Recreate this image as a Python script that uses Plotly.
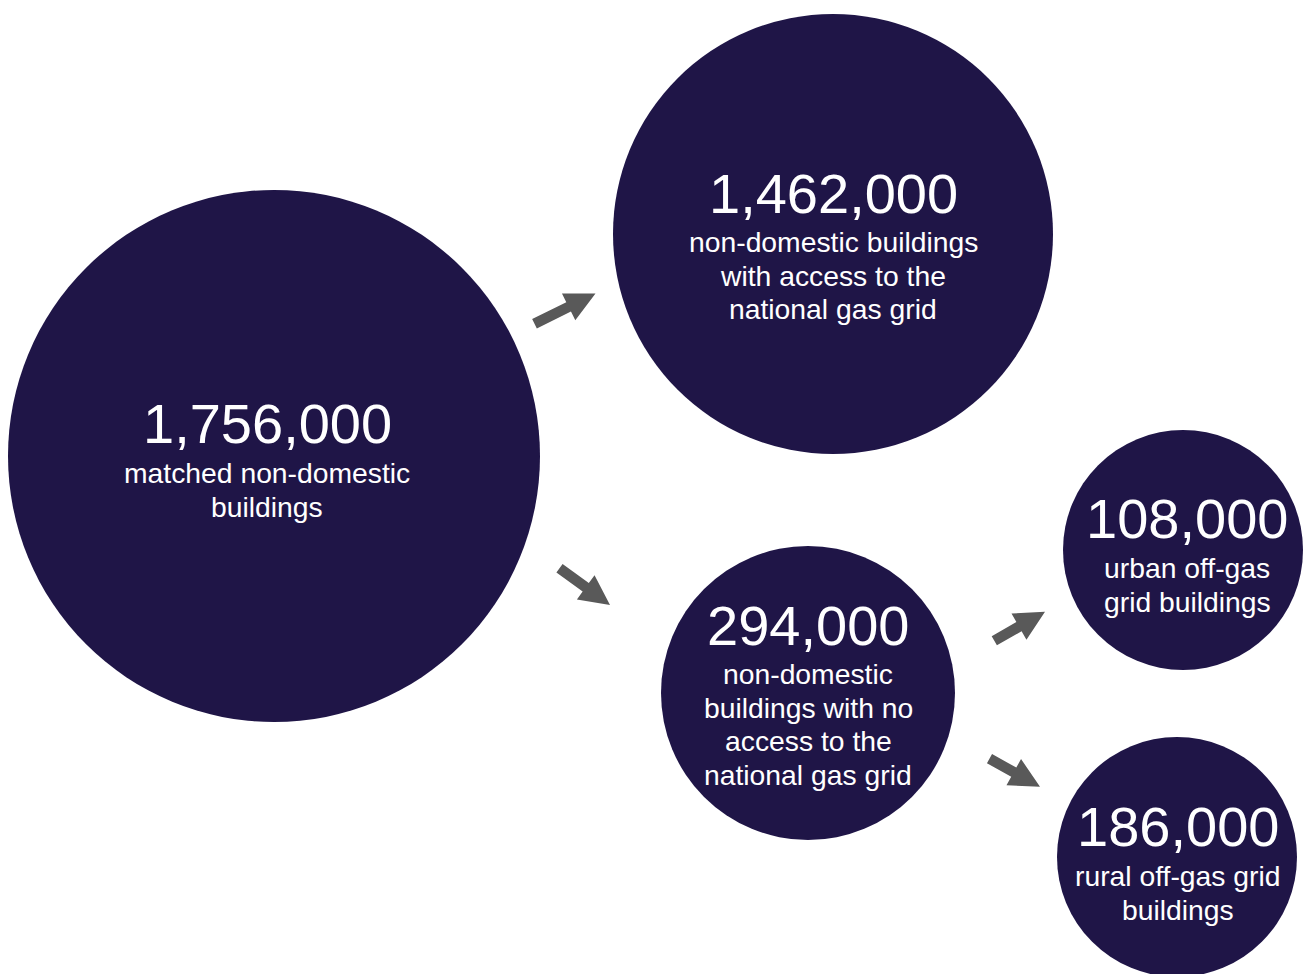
import plotly.graph_objects as go
import math

# ---- data ----
node_values = [1756000, 1462000, 294000, 108000, 186000]
node_labels = [
    ["matched non-domestic", "buildings"],
    ["non-domestic buildings", "with access to the", "national gas grid"],
    ["non-domestic", "buildings with no", "access to the", "national gas grid"],
    ["urban off-gas", "grid buildings"],
    ["rural off-gas grid", "buildings"],
]
link_source = [0, 0, 2, 2]
link_target = [1, 2, 3, 4]

# ---- layout (pixel space) ----
W, H = 1303, 974
circle_cx = [274, 833, 808, 1183, 1177]
circle_cy = [456, 234, 693, 550, 857]
circle_r = [266, 220, 147, 120, 120]
text_cx = [267, 833, 808, 1187, 1178]
number_y = [423, 193, 625, 518, 826]
label_y0 = [473, 242, 674, 568, 876]
line_gap = 33.7

# arrows: (tail x, tail y, tip x, tip y)
arrow_geom = [
    (534.5, 323.8, 595.5, 293.5),
    (559.5, 568.3, 610.0, 605.0),
    (994.3, 640.8, 1045.0, 611.7),
    (989.5, 758.7, 1040.0, 786.7),
]

NAVY = "#1F1547"
GREY = "#595959"
FONT = "Liberation Sans, Arial, sans-serif"

fig = go.Figure()
shapes = []
for cx, cy, r in zip(circle_cx, circle_cy, circle_r):
    shapes.append(dict(type="circle", xref="x", yref="y",
                       x0=cx - r, x1=cx + r, y0=cy - r, y1=cy + r,
                       fillcolor=NAVY, line=dict(width=0), layer="below"))

shaft_w = 10.5
head_w = 30.0
head_l = 30.0
for (tx, ty, hx, hy) in arrow_geom:
    dx, dy = hx - tx, hy - ty
    L = math.hypot(dx, dy)
    ux, uy = dx / L, dy / L
    px, py = -uy, ux
    bx, by = hx - ux * head_l, hy - uy * head_l
    pts = [
        (tx + px * shaft_w / 2, ty + py * shaft_w / 2),
        (bx + px * shaft_w / 2, by + py * shaft_w / 2),
        (bx + px * head_w / 2, by + py * head_w / 2),
        (hx, hy),
        (bx - px * head_w / 2, by - py * head_w / 2),
        (bx - px * shaft_w / 2, by - py * shaft_w / 2),
        (tx - px * shaft_w / 2, ty - py * shaft_w / 2),
    ]
    path = "M " + " L ".join(f"{x:.2f},{y:.2f}" for x, y in pts) + " Z"
    shapes.append(dict(type="path", xref="x", yref="y", path=path,
                       fillcolor=GREY, line=dict(width=0)))

annotations = []
for i, v in enumerate(node_values):
    annotations.append(dict(x=text_cx[i], y=number_y[i], xref="x", yref="y",
                            text=f"{v:,}", showarrow=False,
                            xanchor="center", yanchor="middle",
                            font=dict(family=FONT, size=56, color="white")))
    for j, line in enumerate(node_labels[i]):
        annotations.append(dict(x=text_cx[i], y=label_y0[i] + j * line_gap,
                                xref="x", yref="y", text=line, showarrow=False,
                                xanchor="center", yanchor="middle",
                                font=dict(family=FONT, size=28.3, color="white")))

fig.update_layout(
    width=W, height=H,
    margin=dict(l=0, r=0, t=0, b=0),
    paper_bgcolor="white", plot_bgcolor="white",
    xaxis=dict(range=[0, W], visible=False, fixedrange=True),
    yaxis=dict(range=[H, 0], visible=False, fixedrange=True),
    shapes=shapes, annotations=annotations, showlegend=False,
)

fig.write_html("out.html",
               config={"displayModeBar": False, "staticPlot": True},
               post_script="document.body.style.margin='0';document.body.style.overflow='hidden';")
